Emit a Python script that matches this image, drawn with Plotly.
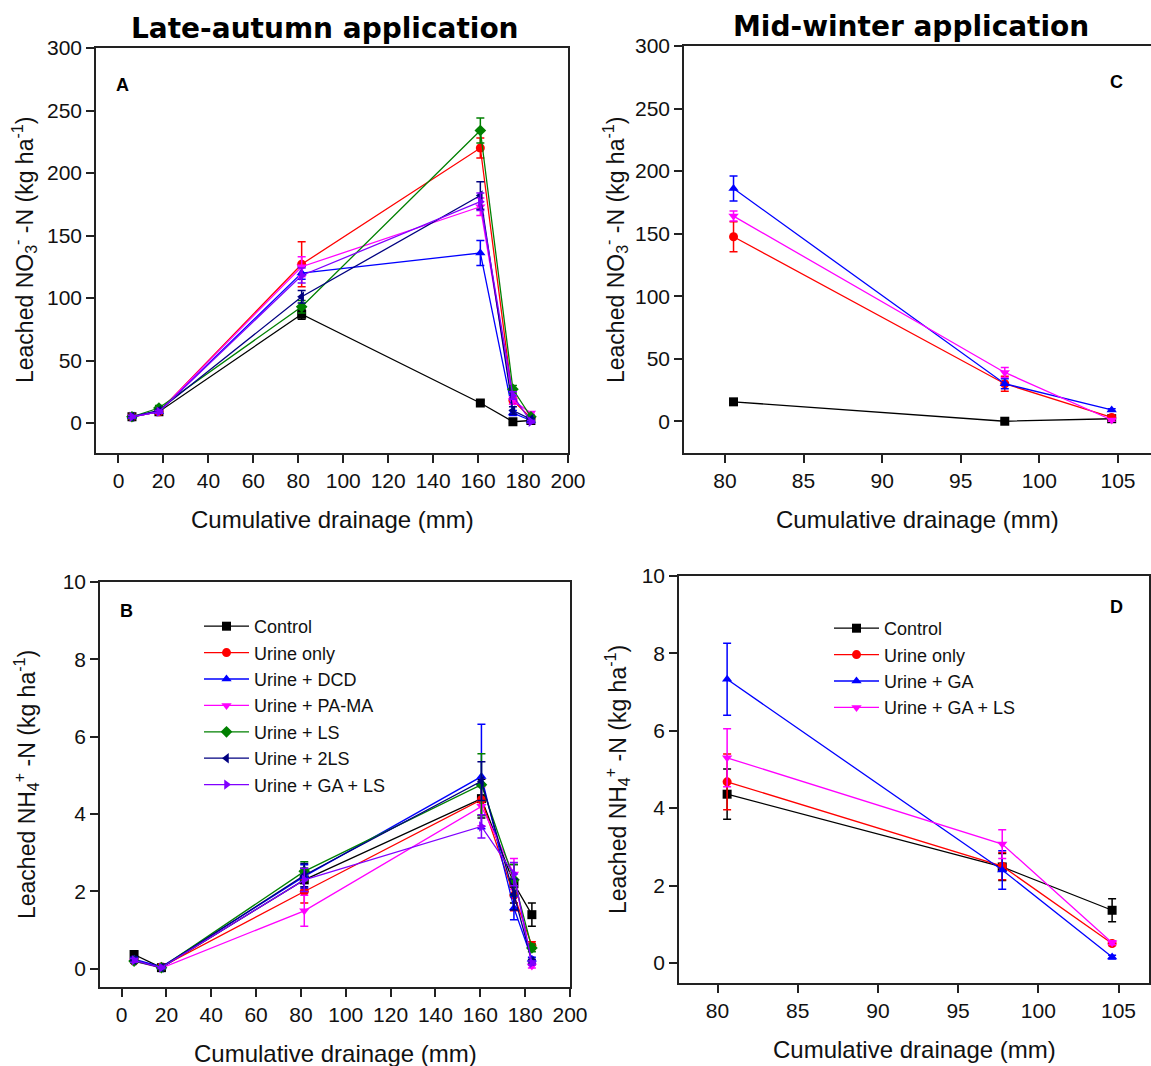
import plotly.graph_objects as go

W, H = 1151, 1066

# ---------------- Data ----------------
# Panel A: Late-autumn, leached NO3- -N (kg/ha)
xA = [6, 18, 81.5, 161, 175.5, 183.5]
A_names = ["Control", "Urine only", "Urine + DCD", "Urine + PA-MA", "Urine + LS", "Urine + 2LS", "Urine + GA + LS"]
A_control = [5, 9, 87, 16, 1, 2]
A_urine = [5, 9, 127, 220, 18, 4]
A_dcd = [5, 9, 120, 136, 8, 2]
A_pama = [5, 9, 125, 173, 18, 8]
A_ls = [5, 12, 93, 234, 27, 5]
A_2ls = [5, 10, 101, 182, 10, 3]
A_gals = [5, 9, 118, 177, 22, 1]
A_err_control = [1, 1, 4, 2, 1, 1]
A_err_urine = [1, 1, 18, 8, 3, 1]
A_err_dcd = [1, 1, 5, 10, 2, 1]
A_err_pama = [1, 1, 8, 7, 3, 1]
A_err_ls = [1, 2, 5, 10, 3, 1]
A_err_2ls = [1, 1, 5, 11, 3, 1]
A_err_gals = [1, 1, 6, 7, 3, 1]

# Panel B: Late-autumn, leached NH4+ -N (kg/ha)
xB = [5.6, 17.8, 81.5, 160.5, 175, 183]
B_control = [0.37, 0.03, 2.3, 4.4, 2.2, 1.4]
B_urine = [0.2, 0.05, 2.0, 4.37, 1.9, 0.6]
B_dcd = [0.25, 0.05, 2.39, 4.97, 1.57, 0.25]
B_pama = [0.2, 0.02, 1.5, 4.2, 2.45, 0.07]
B_ls = [0.2, 0.03, 2.52, 4.76, 2.3, 0.54]
B_2ls = [0.22, 0.03, 2.42, 4.85, 1.92, 0.2]
B_gals = [0.22, 0.03, 2.3, 3.68, 2.45, 0.15]
B_err_control = [0.08, 0.03, 0.3, 0.5, 0.5, 0.3]
B_err_urine = [0.05, 0.03, 0.3, 0.4, 0.4, 0.1]
B_err_dcd = [0.05, 0.03, 0.3, 1.35, 0.3, 0.05]
B_err_pama = [0.05, 0.02, 0.4, 0.5, 0.4, 0.05]
B_err_ls = [0.05, 0.02, 0.25, 0.8, 0.4, 0.1]
B_err_2ls = [0.05, 0.02, 0.3, 0.5, 0.4, 0.05]
B_err_gals = [0.05, 0.02, 0.3, 0.3, 0.3, 0.05]

# Panel C: Mid-winter, leached NO3- -N
xC = [80.55, 97.8, 104.6]
CD_names = ["Control", "Urine only", "Urine + GA", "Urine + GA + LS"]
C_control = [15.5, 0, 2]
C_urine = [147.5, 30, 3]
C_ga = [186, 30, 9]
C_gals = [164, 39, 1]
C_err_control = [1, 1, 1]
C_err_urine = [12, 6, 1]
C_err_ga = [10, 4, 1]
C_err_gals = [4, 4, 1]

# Panel D: Mid-winter, leached NH4+ -N
xD = [80.6, 97.75, 104.6]
D_control = [4.36, 2.48, 1.36]
D_urine = [4.68, 2.5, 0.5]
D_ga = [7.33, 2.4, 0.15]
D_gals = [5.3, 3.07, 0.52]
D_err_control = [0.65, 0.35, 0.3]
D_err_urine = [0.72, 0.35, 0.05]
D_err_ga = [0.93, 0.5, 0.05]
D_err_gals = [0.75, 0.37, 0.05]

# ---------------- Styles ----------------
C_BLACK, C_RED, C_BLUE, C_MAG, C_GREEN, C_NAVY, C_PURP = (
    "#000000", "#ff0000", "#0000ff", "#ff00ff", "#008000", "#000080", "#8000ff")
A_colors = [C_BLACK, C_RED, C_BLUE, C_MAG, C_GREEN, C_NAVY, C_PURP]
A_symbols = ["square", "circle", "triangle-up", "triangle-down", "diamond", "triangle-left", "triangle-right"]
CD_colors = [C_BLACK, C_RED, C_BLUE, C_MAG]
CD_symbols = ["square", "circle", "triangle-up", "triangle-down"]

FONT = "Liberation Sans, Arial, sans-serif"

fig = go.Figure()


def add_series(x, ys, errs, names, colors, symbols, xa, ya, legend=None):
    for y, e, n, c, s in zip(ys, errs, names, colors, symbols):
        fig.add_trace(go.Scatter(
            x=x, y=y, name=n, mode="lines+markers",
            line=dict(color=c, width=1.3),
            marker=dict(color=c, symbol=s, size=9),
            error_y=dict(type="data", array=e, color=c, thickness=1.5, width=4),
            xaxis=xa, yaxis=ya,
            showlegend=legend is not None,
            legend=legend if legend else "legend",
        ))


add_series(xA, [A_control, A_urine, A_dcd, A_pama, A_ls, A_2ls, A_gals],
           [A_err_control, A_err_urine, A_err_dcd, A_err_pama, A_err_ls, A_err_2ls, A_err_gals],
           A_names, A_colors, A_symbols, "x", "y")
add_series(xB, [B_control, B_urine, B_dcd, B_pama, B_ls, B_2ls, B_gals],
           [B_err_control, B_err_urine, B_err_dcd, B_err_pama, B_err_ls, B_err_2ls, B_err_gals],
           A_names, A_colors, A_symbols, "x2", "y2", legend="legend")
add_series(xC, [C_control, C_urine, C_ga, C_gals],
           [C_err_control, C_err_urine, C_err_ga, C_err_gals],
           CD_names, CD_colors, CD_symbols, "x3", "y3")
add_series(xD, [D_control, D_urine, D_ga, D_gals],
           [D_err_control, D_err_urine, D_err_ga, D_err_gals],
           CD_names, CD_colors, CD_symbols, "x4", "y4", legend="legend2")


def px_x(p):
    return p / W


def px_y(p):
    return 1 - p / H


def axis(domain, rng, dtick, anchor):
    return dict(domain=domain, range=rng, dtick=dtick, anchor=anchor, automargin=False,
                showline=True, mirror=True, linecolor="#222222", linewidth=1.5,
                ticks="outside", ticklen=8, tickwidth=1.5, tickcolor="#222222",
                showgrid=False, zeroline=False,
                tickfont=dict(family=FONT, size=21, color="#111111"))


layout = dict(
    template="none",
    width=W, height=H, autosize=False,
    margin=dict(l=0, r=0, t=0, b=0, pad=0),
    paper_bgcolor="white", plot_bgcolor="white",
    xaxis=axis([px_x(96), px_x(568)], [-10, 200], 20, "y"),
    yaxis=axis([px_y(453), px_y(48)], [-24, 300], 50, "x"),
    xaxis2=axis([px_x(100), px_x(570)], [-9.6, 200], 20, "y2"),
    yaxis2=axis([px_y(987), px_y(582)], [-0.47, 10], 2, "x2"),
    xaxis3=axis([px_x(684), 1.0], [77.4, 107.1], 5, "y3"),
    yaxis3=axis([px_y(453), px_y(46)], [-25.4, 300], 50, "x3"),
    xaxis4=axis([px_x(679), px_x(1149)], [77.6, 106.9], 5, "y4"),
    yaxis4=axis([px_y(983), px_y(576)], [-0.52, 10], 2, "x4"),
    legend=dict(x=px_x(199), y=px_y(608), xanchor="left", yanchor="top",
                bgcolor="rgba(0,0,0,0)", font=dict(family=FONT, size=18, color="#111111"),
                itemwidth=45, tracegroupgap=0),
    legend2=dict(x=px_x(829), y=px_y(610), xanchor="left", yanchor="top",
                 bgcolor="rgba(0,0,0,0)", font=dict(family=FONT, size=18, color="#111111"),
                 itemwidth=45, tracegroupgap=0),
)
fig.update_layout(**layout)

ann = []


def note(text, xp, yp, font, angle=0):
    ann.append(dict(text=text, x=px_x(xp), y=px_y(yp), xref="paper", yref="paper",
                    xanchor="center", yanchor="middle", showarrow=False,
                    textangle=angle, font=font))


TITLE_FONT = dict(family="DejaVu Sans, sans-serif", size=28, color="#000000")
# Column titles
note("<b>Late-autumn application</b>", 325, 29, TITLE_FONT)
note("<b>Mid-winter application</b>", 911, 26, TITLE_FONT)
# Panel letters
for t, xp, yp in [("A", 122, 85), ("B", 126, 611), ("C", 1116, 82), ("D", 1116, 607)]:
    note("<b>%s</b>" % t, xp, yp, dict(family=FONT, size=18, color="#000000"))
# Axis titles
xt = "Cumulative drainage (mm)"
for xp, yp in [(332, 519), (335, 1053), (917, 519), (914, 1049)]:
    note(xt, xp, yp, dict(family=FONT, size=24, color="#111111"))
no3 = "Leached NO<sub>3</sub><sup>-</sup> -N (kg ha<sup>-1</sup>)"
nh4 = "Leached NH<sub>4</sub><sup>+</sup> -N (kg ha<sup>-1</sup>)"
for t, xp, yp in [(no3, 24, 250), (nh4, 26, 785), (no3, 615, 250), (nh4, 617, 780)]:
    note(t, xp, yp, dict(family=FONT, size=23, color="#111111"), angle=-90)
fig.update_layout(annotations=ann)

fig.write_html("out.html")
